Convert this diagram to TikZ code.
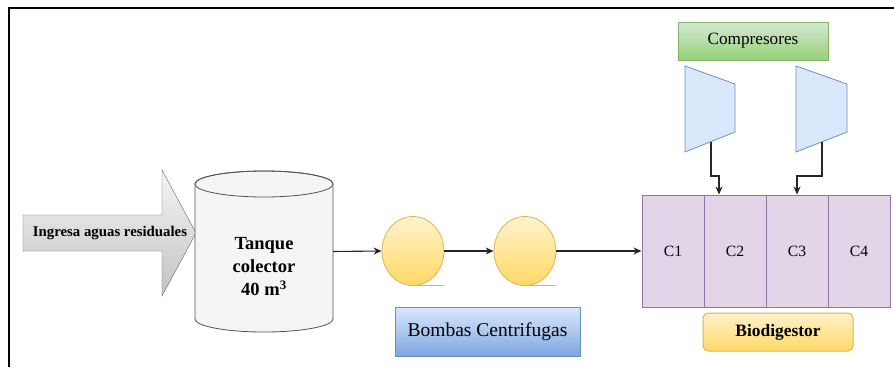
\documentclass[tikz,border=0pt]{standalone}
\usepackage{fontspec}
\setmainfont{Liberation Serif}
\usetikzlibrary{arrows.meta,shapes.geometric}

\definecolor{grisborde}{HTML}{666666}
\definecolor{grisclaro}{HTML}{F5F5F5}
\definecolor{grisoscuro}{HTML}{B3B3B3}
\definecolor{amarilloborde}{HTML}{D6B656}
\definecolor{amarillo1}{HTML}{FFF2CC}
\definecolor{amarillo2}{HTML}{FFD966}
\definecolor{azulborde}{HTML}{6C8EBF}
\definecolor{azul1}{HTML}{DAE8FC}
\definecolor{azul2}{HTML}{7EA6E0}
\definecolor{verdeborde}{HTML}{82B366}
\definecolor{verde1}{HTML}{D5E8D4}
\definecolor{verde2}{HTML}{97D077}
\definecolor{moradoborde}{HTML}{9673A6}
\definecolor{morado}{HTML}{E1D5E7}

\begin{document}
\begin{tikzpicture}[>={Stealth[length=8pt,width=7pt]}, x=1pt, y=-1pt,
  celda/.style={draw=moradoborde, fill=morado, line width=1pt, minimum width=62pt, minimum height=112pt, inner sep=0pt, font=\fontsize{15.7}{18}\selectfont},
  bomba/.style={ellipse, draw=amarilloborde, top color=amarillo1, bottom color=amarillo2, line width=0.8pt, minimum width=62pt, minimum height=69pt, inner sep=0pt},
  flujo/.style={->, line width=1.1pt, black!85}]

\useasboundingbox (0,0) rectangle (894,367);
\draw [line width=2pt] (9,367) -- (9,8) -- (894,8);

% entrada
\shade [draw=grisborde, top color=grisclaro, bottom color=grisoscuro!80] (23,215) -- (162,215) -- (162,170) -- (196,233) -- (162,296) -- (162,251) -- (23,251) -- cycle;
\node (entrada) at (110,233) {\fontsize{14.8}{17}\selectfont\bfseries Ingresa aguas residuales};

% tanque
\node (tanque) [minimum width=138pt, minimum height=161pt, inner sep=0pt] at (264,251.5) {};
\filldraw [draw=grisborde!80!black, fill=grisclaro, line width=0.8pt] (195,184) -- (195,319) arc [start angle=180, end angle=0, x radius=69, y radius=13] -- (333,184) arc [start angle=0, end angle=-180, x radius=69, y radius=13] -- cycle;
\draw [grisborde!80!black, line width=0.8pt] (264,184) ellipse [x radius=69, y radius=13];
\node (tanque_txt) [align=center, font=\fontsize{18.5}{23}\selectfont\bfseries] at (264,267) {Tanque\\colector\\40 m\textsuperscript{3}};

% bombas
\node (bomba1) [bomba] at (413,251) {};
\node (bomba2) [bomba] at (525,251) {};
\draw [amarilloborde, line width=1pt] (bomba1.south) -- (bomba1.south -| bomba1.east);
\draw [amarilloborde, line width=1pt] (bomba2.south) -- (bomba2.south -| bomba2.east);
\node (bombas) [draw=azulborde, top color=azul1, bottom color=azul2, line width=1pt, minimum width=185pt, minimum height=49pt, font=\fontsize{19.5}{22}\selectfont] at (487.5,331.5) {Bombas Centrifugas};

% biodigestor
\node (C1) [celda] at (673,251) {C1};
\node (C2) [celda] at (735,251) {C2};
\node (C3) [celda] at (797,251) {C3};
\node (C4) [celda] at (859,251) {C4};
\node (biodigestor) [draw=amarilloborde, top color=amarillo1, bottom color=amarillo2, rounded corners=5pt, line width=1pt, minimum width=150pt, minimum height=38pt, font=\fontsize{17.4}{20}\selectfont\bfseries] at (778,332) {Biodigestor};

% compresores
\node (compresores) [draw=verdeborde, top color=verde1, bottom color=verde2, line width=1pt, minimum width=150pt, minimum height=38pt, font=\fontsize{17.2}{20}\selectfont] at (753,41) {Compresores};
\draw [draw=azulborde, fill=azul1, line width=0.8pt] (685,66) -- (735,84) -- (735,132) -- (685,152) -- cycle;
\draw [draw=azulborde, fill=azul1, line width=0.8pt] (796,66) -- (847,84) -- (847,132) -- (796,152) -- cycle;
\coordinate (comp1) at (711,142);
\coordinate (comp2) at (822,142);

% flechas
\draw [flujo] (tanque.east) -- (bomba1.west);
\draw [flujo] (bomba1.east) -- (bomba2.west);
\draw [flujo] (bomba2.east) -- (C1.west);
\draw [flujo] (comp1) -- ++(0,34) -| ([xshift=-16pt]C2.north);
\draw [flujo] (comp2) -- ++(0,34) -| (C3.north);

\end{tikzpicture}
\end{document}
